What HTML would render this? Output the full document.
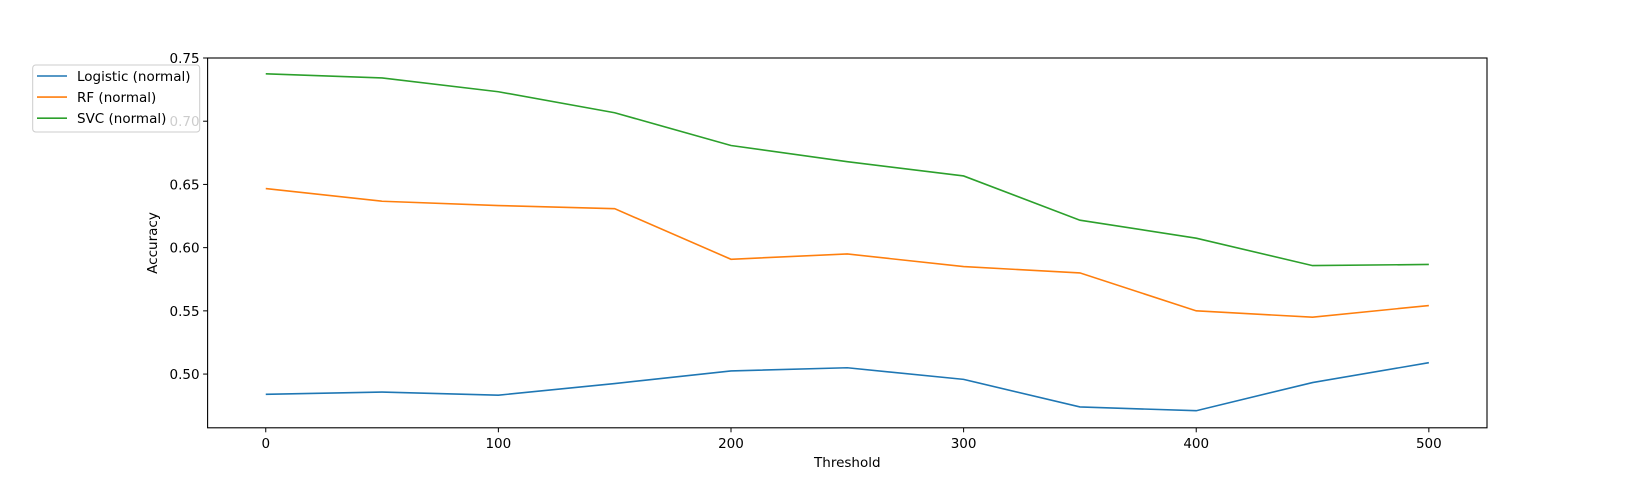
<!DOCTYPE html>
<html><head><meta charset="utf-8"><style>
body{margin:0;background:#fff;}
svg text{font-family:"DejaVu Sans","Liberation Sans",sans-serif;font-size:13.5px;fill:#000;}
</style></head><body>
<svg id="chart" width="1652" height="480" xmlns="http://www.w3.org/2000/svg"></svg>
<script>
const thresholds=[0,50,100,150,200,250,300,350,400,450,500];
const logistic=[0.484,0.4858,0.4833,0.4925,0.5025,0.505,0.4958,0.474,0.471,0.4933,0.509];
const rf=[0.6467,0.6367,0.6333,0.6308,0.5908,0.595,0.585,0.58,0.55,0.545,0.5542];
const svc=[0.7375,0.7342,0.7233,0.7067,0.6808,0.668,0.6567,0.6217,0.6075,0.5858,0.5867];
const xTicks=[0,100,200,300,400,500];
const yTicks=[0.50,0.55,0.60,0.65,0.70,0.75];
const seriesNames=["Logistic (normal)","RF (normal)","SVC (normal)"];
const colors=["#1f77b4","#ff7f0e","#2ca02c"];
const L=207.6,R=1487,T=58,B=427.8;
const xMin=-25,xMax=525,yMin=0.4575,yMax=0.75;
const sx=v=>L+(v-xMin)/(xMax-xMin)*(R-L);
const sy=v=>B-(v-yMin)/(yMax-yMin)*(B-T);
const svg=document.getElementById('chart');
const NS='http://www.w3.org/2000/svg';
function mk(tag,attrs,parent){const e=document.createElementNS(NS,tag);for(const k in attrs)e.setAttribute(k,attrs[k]);(parent||svg).appendChild(e);return e;}
[logistic,rf,svc].forEach((s,i)=>{
  const p=mk('polyline',{points:s.map((v,j)=>sx(thresholds[j])+','+sy(v)).join(' '),fill:'none',stroke:colors[i],'stroke-width':1.6});
  
  
});
const frame=mk('rect',{x:L,y:T,width:R-L,height:B-T,fill:'none',stroke:'#000','stroke-width':1.1});


xTicks.forEach(t=>{
  const x=sx(t);
  mk('line',{x1:x,x2:x,y1:B,y2:B+4.5,stroke:'#000'});
  const tx=mk('text',{x:x,y:B+20,'text-anchor':'middle'});tx.textContent=t;
  
  
});
yTicks.forEach(t=>{
  const y=sy(t);
  mk('line',{x1:L-4.5,x2:L,y1:y,y2:y,stroke:'#000'});
  const tx=mk('text',{x:L-8,y:y+5,'text-anchor':'end'});tx.textContent=t.toFixed(2);
  
  
});
const xt=mk('text',{x:(L+R)/2,y:467,'text-anchor':'middle'});xt.textContent='Threshold';


const yt=mk('text',{x:0,y:0,'text-anchor':'middle',transform:'translate(157,243) rotate(-90)'});yt.textContent='Accuracy';


const lg=mk('g',{});


mk('rect',{x:32.7,y:65,width:167,height:67,fill:'#fff','fill-opacity':0.8,stroke:'#ccc',rx:3},lg);
seriesNames.forEach((n,i)=>{
  const y=76+i*21.1;
  const ln=mk('line',{x1:37,x2:67,y1:y,y2:y,stroke:colors[i],'stroke-width':1.6},lg);
  
  
  const tx=mk('text',{x:77,y:y+5},lg);tx.textContent=n;
  
  
});
</script>
</body></html>
